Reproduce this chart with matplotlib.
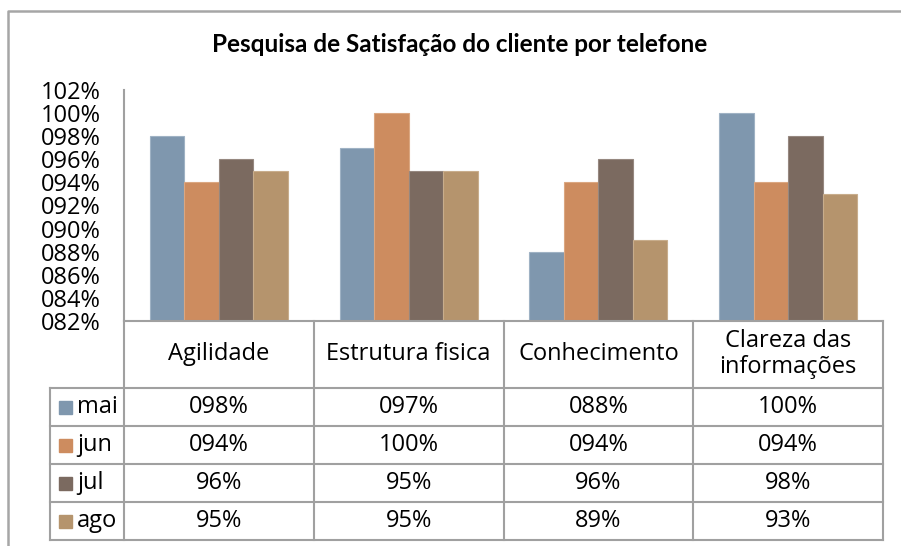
import matplotlib.pyplot as plt
import matplotlib.transforms as mtransforms
from matplotlib.lines import Line2D
from matplotlib.patches import Rectangle
import numpy as np

categories = ['Agilidade', 'Estrutura fisica', 'Conhecimento', 'Clareza das\ninformações']
series = ['mai', 'jun', 'jul', 'ago']
mai = [98, 97, 88, 100]
jun = [94, 100, 94, 94]
jul = [96, 95, 96, 98]
ago = [95, 95, 89, 93]
fmts = ['{:03d}%', '{:03d}%', '{:d}%', '{:d}%']
colors = ['#7F97AE', '#CD8C5F', '#7B6A60', '#B5946D']
edges = ['#9FB2C4', '#DBA781', '#968880', '#C8AD8C']
yticks = list(range(82, 103, 2))

W, H = 901, 546
plt.rcParams['font.family'] = ['Open Sans', 'DejaVu Sans']
fig = plt.figure(figsize=(W / 100, H / 100), dpi=100)

def fx(px):
    return px / W

def fy(py):
    return 1 - py / H

grey = '#A0A0A0'
fs = 17

# outer chart border
fig.add_artist(Line2D([fx(8), fx(8), fx(W)], [0, fy(11), fy(11)], color='#A6A6A6', lw=1.8))

fig.text(fx(460), fy(45), 'Pesquisa de Satisfação do cliente por telefone',
         ha='center', va='center', fontsize=17.5, fontweight='bold', family='Lato')

ax = fig.add_axes([fx(124), fy(321), fx(883) - fx(124), fy(90) - fy(321)])
x = np.arange(len(categories))
w = 0.182
data = [mai, jun, jul, ago]
for i, vals in enumerate(data):
    ax.bar(x + (i - 1.5) * w, vals, w, color=colors[i], edgecolor=edges[i], lw=0.8, zorder=2)

ax.set_xlim(-0.5, len(categories) - 0.5)
ax.set_ylim(82, 102)
ax.set_yticks(yticks)
ax.set_yticklabels(['{:03d}%'.format(v) for v in yticks], fontsize=fs)
ax.tick_params(axis='y', length=0, pad=17)
ax.set_xticks([])
for s in ['top', 'right', 'bottom']:
    ax.spines[s].set_visible(False)
ax.spines['left'].set_color(grey)
ax.spines['left'].set_linewidth(1.5)

# data table below the plot
tr = mtransforms.blended_transform_factory(ax.transData, fig.transFigure)
row_y = [321, 388, 426, 464, 502, 540]
bounds = np.arange(len(categories) + 1) - 0.5
lw = 1.5

fig.add_artist(Line2D([bounds[0], bounds[-1]], [fy(321), fy(321)], transform=tr, color=grey, lw=lw))
for b in bounds:
    fig.add_artist(Line2D([b, b], [fy(321), fy(540)], transform=tr, color=grey, lw=lw))
for yy in row_y[1:]:
    fig.add_artist(Line2D([fx(50), fx(883)], [fy(yy), fy(yy)], color=grey, lw=lw))
fig.add_artist(Line2D([fx(50), fx(50)], [fy(388), fy(540)], color=grey, lw=lw))

for j, cat in enumerate(categories):
    fig.text(j, fy(354), cat, transform=tr, ha='center', va='center',
             fontsize=fs, linespacing=1.1)

for i, name in enumerate(series):
    yc = (row_y[i + 1] + row_y[i + 2]) / 2
    fig.add_artist(Rectangle((fx(59), fy(yc + 6.5)), fx(13), 13 / H, color=colors[i]))
    fig.text(fx(77), fy(yc), name, ha='left', va='center', fontsize=fs)
    for j, v in enumerate(data[i]):
        fig.text(j, fy(yc), fmts[i].format(v), transform=tr, ha='center', va='center', fontsize=fs)

fig.savefig('out.png', dpi=100)
